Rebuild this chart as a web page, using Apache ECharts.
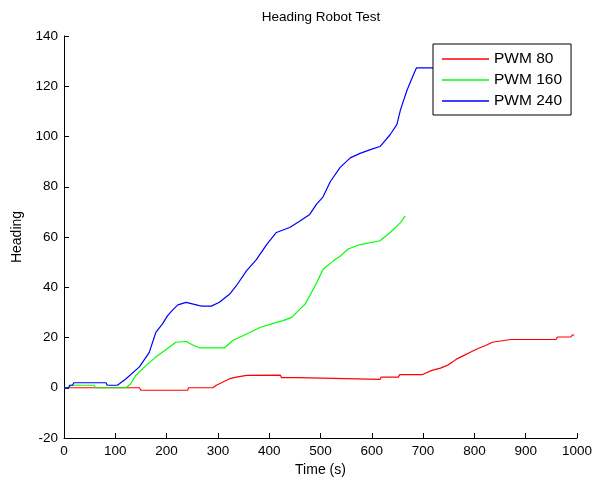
<!DOCTYPE html>
<html>
<head>
<meta charset="utf-8">
<script src="https://cdn.jsdelivr.net/npm/echarts@6/dist/echarts.min.js"></script>
<style>
  html, body { margin: 0; padding: 0; background: #fff; }
  #chart { width: 595px; height: 482px; }
</style>
</head>
<body>
<div id="chart"></div>
<script>
// Heading samples (degrees) over time (s) for three PWM settings
const timePwm80 = [0, 120, 147, 150, 157, 241, 243, 290, 297, 309, 323, 336, 356, 422, 424, 458, 460, 616, 618, 652, 654, 698, 717, 734, 747, 757, 766, 779, 793, 806, 822, 835, 871, 959, 962, 988, 991, 995];
const headingPwm80 = [0, 0, 0, -1, -1, -1, 0, 0, 1, 2.2, 3.6, 4.2, 4.9, 5, 4, 4, 3.3, 3.3, 4.2, 4.2, 5.2, 5.2, 6.9, 7.8, 8.9, 10.2, 11.5, 12.8, 14.2, 15.5, 16.8, 18.1, 19.2, 19.2, 20.2, 20.2, 21, 21];

const timePwm160 = [0, 10, 12, 59, 61, 121, 130, 140, 160, 179, 199, 218, 238, 251, 264, 313, 329, 356, 382, 411, 427, 444, 457, 470, 479, 493, 505, 525, 538, 554, 577, 616, 636, 656, 665];
const headingPwm160 = [0, 0, 1, 1, 0, 0, 1.6, 4.9, 8.9, 12.2, 15.2, 18.1, 18.4, 17, 15.9, 15.9, 18.8, 21.4, 24, 25.8, 26.7, 28, 30.7, 33.3, 36.6, 42, 47.2, 50.5, 52.3, 55.2, 57, 58.5, 61.8, 65.7, 68.4];

const timePwm240 = [0, 9, 11, 17, 19, 82, 84, 104, 108, 121, 147, 166, 179, 192, 202, 212, 222, 238, 264, 270, 287, 303, 323, 336, 356, 375, 395, 414, 440, 460, 479, 492, 505, 519, 538, 558, 577, 600, 616, 636, 649, 656, 669, 682, 687, 725];
const headingPwm240 = [0, 0, 1, 1, 2, 2, 1, 1, 1.6, 3.6, 8.3, 14, 22, 25.4, 28.7, 31, 33, 34, 32.7, 32.5, 32.5, 34, 37.3, 40.6, 46.6, 51, 57, 61.8, 63.8, 66.4, 69, 73, 76, 82, 87.6, 91.5, 93.3, 95, 96, 100.8, 104.8, 110.7, 118.6, 125, 127.3, 127.3];

const seriesNames = ['PWM 80', 'PWM 160', 'PWM 240'];
const seriesColors = ['#ff0000', '#00ff00', '#0000ff'];

const xTicks = { min: 0, max: 1000, step: 100 };
const yTicks = { min: -20, max: 140, step: 20 };

function pairs(xs, ys) {
  return xs.map((x, i) => [x, ys[i]]);
}

const FONT = "'Liberation Sans', Arial, Helvetica, sans-serif";
const plainNumber = v => String(v);

const chart = echarts.init(document.getElementById('chart'), null, { renderer: 'canvas' });

const lineSeries = [
  pairs(timePwm80, headingPwm80),
  pairs(timePwm160, headingPwm160),
  pairs(timePwm240, headingPwm240)
].map((data, i) => ({
  name: seriesNames[i],
  type: 'line',
  data: data,
  symbol: 'none',
  showSymbol: false,
  animation: false,
  lineStyle: { color: seriesColors[i], width: 1.2 },
  itemStyle: { color: seriesColors[i] },
  z: 2 + i
}));

chart.setOption({
  animation: false,
  backgroundColor: '#ffffff',
  title: {
    text: 'Heading Robot Test',
    left: 321,
    top: 10,
    textAlign: 'center',
    padding: 0,
    textStyle: { fontFamily: FONT, fontSize: 13.5, fontWeight: 'normal', color: '#000' }
  },
  grid: { left: 64, right: 17, top: 36, bottom: 43, containLabel: false },
  legend: {
    orient: 'vertical',
    left: 433,
    top: 44,
    data: seriesNames,
    icon: 'rect',
    itemWidth: 47,
    itemHeight: 1.5,
    itemGap: 3,
    padding: [6, 9, 5, 9],
    backgroundColor: '#ffffff',
    borderColor: '#000000',
    borderWidth: 1,
    borderRadius: 0,
    textStyle: { fontFamily: FONT, fontSize: 15.5, color: '#000', lineHeight: 18 },
    z: 10
  },
  xAxis: {
    type: 'value',
    min: xTicks.min,
    max: xTicks.max,
    interval: xTicks.step,
    name: 'Time (s)',
    nameLocation: 'middle',
    nameGap: 25,
    nameTextStyle: { fontFamily: FONT, fontSize: 14, color: '#000' },
    axisLine: { show: true, onZero: false, lineStyle: { color: '#000', width: 1 } },
    axisTick: { show: true, inside: true, length: 5, lineStyle: { color: '#000' } },
    axisLabel: { fontFamily: FONT, fontSize: 13.5, color: '#000', margin: 6, formatter: plainNumber },
    splitLine: { show: false }
  },
  yAxis: {
    type: 'value',
    min: yTicks.min,
    max: yTicks.max,
    interval: yTicks.step,
    name: 'Heading',
    nameLocation: 'middle',
    nameGap: 40,
    nameRotate: 90,
    nameTextStyle: { fontFamily: FONT, fontSize: 14, color: '#000' },
    axisLine: { show: true, onZero: false, lineStyle: { color: '#000', width: 1 } },
    axisTick: { show: true, inside: true, length: 5, lineStyle: { color: '#000' } },
    axisLabel: { fontFamily: FONT, fontSize: 13.5, color: '#000', margin: 6, formatter: plainNumber },
    splitLine: { show: false }
  },
  series: lineSeries
});
</script>
</body>
</html>
